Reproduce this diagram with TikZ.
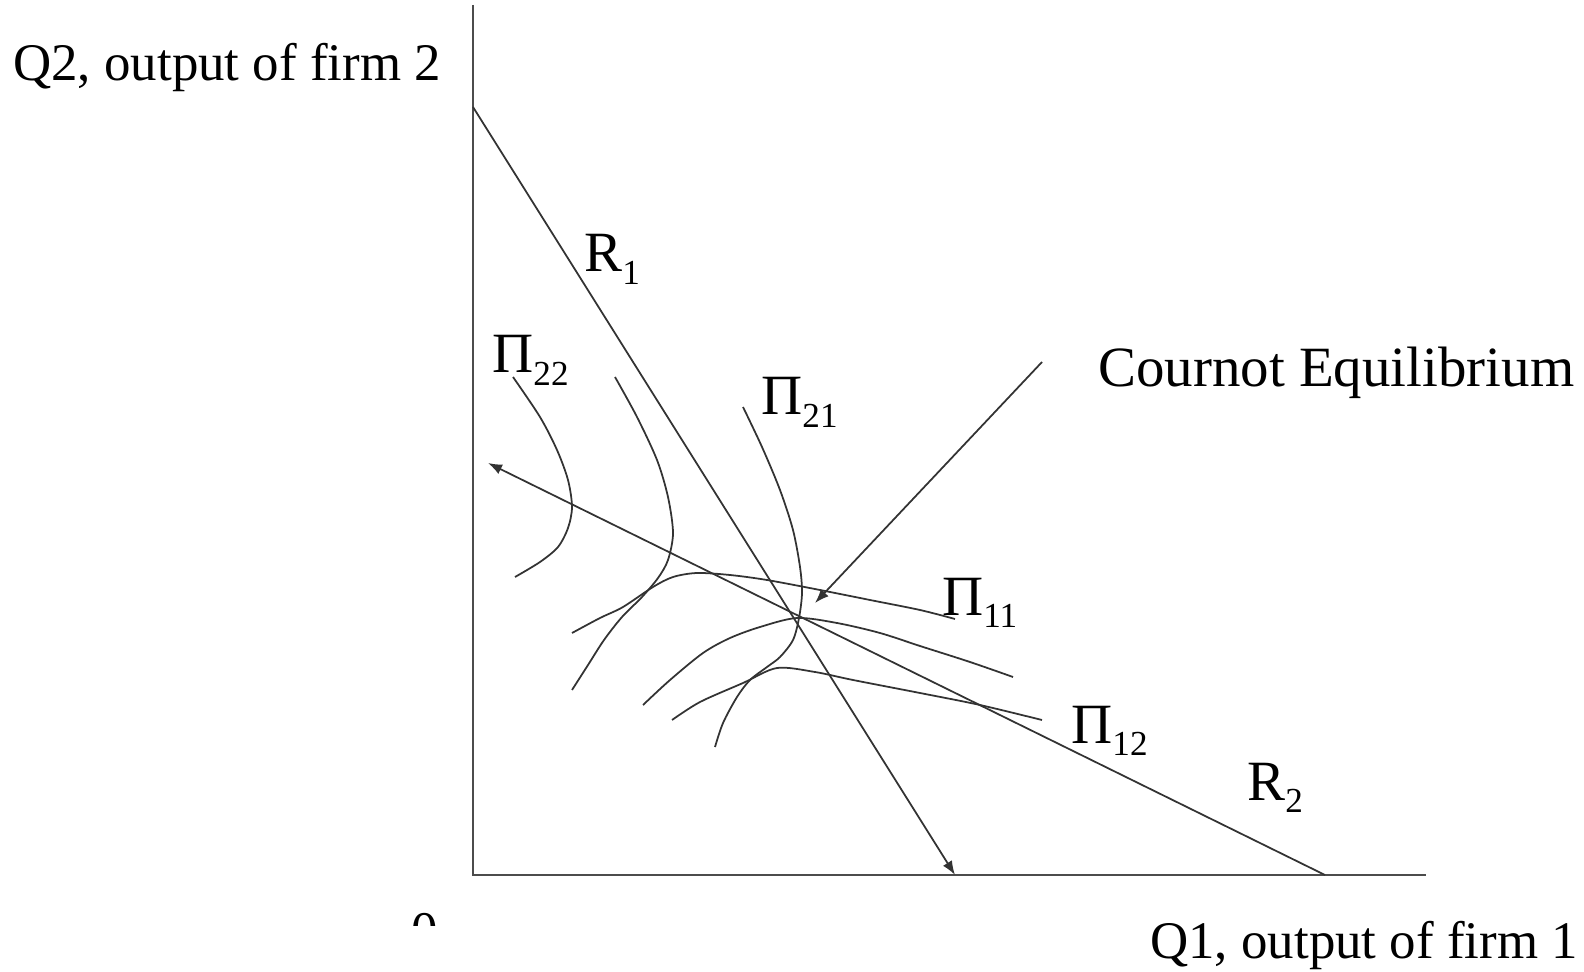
\documentclass[tikz,border=0pt]{standalone}
\usepackage{fontspec}
\setmainfont{Liberation Serif}
\usetikzlibrary{arrows.meta}
\newcommand{\withsub}[2]{#1\raisebox{-7pt}{\fontsize{20}{22}\selectfont #2}}

\begin{document}
\begin{tikzpicture}[
		x=0.02cm, y=-0.02cm,
		axis/.style={draw, line width=1.3pt, black!70},
		line/.style={draw, line width=1pt, black!80},
		tip/.style={-{Latex[length=8pt,width=6pt]}},
		axislabel/.style={anchor=base west, inner sep=0pt, font=\fontsize{30.1}{34}\selectfont},
		curvelabel/.style={anchor=base west, inner sep=0pt, font=\fontsize{32.4}{36}\selectfont}
		]
		\useasboundingbox (0,0) rectangle (1584,972);
		
		% Axes
		\coordinate (origin) at (473,875);
		\coordinate (ytop) at (473,5);
		\coordinate (xend) at (1426,875);
		\draw[axis] (ytop) -- (origin) -- (xend);
		
		% Axis labels
		\node[axislabel] (q2) at (13,81) {Q2, output of firm 2};
		\node[axislabel] (q1) at (1150,958) {Q1, output of firm 1};
		\begin{scope}
			\clip (400,905) rectangle (450,925);
			\node[axislabel, anchor=base] (zero) at (425,948) {0};
		\end{scope}
		
		% Reaction functions
		\coordinate (r1top) at (473,107);
		\coordinate (r1end) at (955,875);
		\coordinate (r2end) at (1325,875);
		\coordinate (r2tip) at (488,463);
		\draw[line, tip] (r1top) -- (r1end);
		\draw[line, tip] (r2end) -- (r2tip);
		
		% Iso-profit curves of firm 2
		\draw[line] plot[smooth] coordinates {(513,377) (540,417) (557,450) (568,480) (572,507) (568,528) (558,547) (540,562) (515,577)};
		\draw[line] plot[smooth] coordinates {(615,377) (637,417) (657,460) (668,497) (673,533) (668,560) (658,578) (642,597) (622,617) (604,640) (588,665) (572,690)};
		\draw[line] plot[smooth] coordinates {(743,407) (762,447) (780,490) (793,530) (800,567) (802,593) (799,618) (793,640) (780,657) (767,667) (750,680) (737,697) (723,723) (715,747)};
		
		% Iso-profit curves of firm 1
		\draw[line] plot[smooth] coordinates {(572,633) (600,618) (623,607) (653,587) (673,577) (697,573) (730,575) (767,580) (820,590) (870,600) (920,610) (955,619)};
		\draw[line] plot[smooth] coordinates {(643,705) (670,680) (703,653) (730,638) (760,627) (797,618) (837,623) (880,633) (920,646) (970,662) (1013,677)};
		\draw[line] plot[smooth] coordinates {(672,720) (700,702) (743,683) (777,668) (815,672) (853,680) (920,693) (980,705) (1042,720)};
		
		% Curve labels
		\node[curvelabel] (lr1) at (584,272) {\withsub{R}{1}};
		\node[curvelabel] (lr2) at (1247,800) {\withsub{R}{2}};
		\node[curvelabel] (lp22) at (492,373) {\withsub{Π}{22}};
		\node[curvelabel] (lp21) at (761,415) {\withsub{Π}{21}};
		\node[curvelabel] (lp11) at (942,615) {\withsub{Π}{11}};
		\node[curvelabel] (lp12) at (1071,743) {\withsub{Π}{12}};
		
		% Cournot equilibrium
		\coordinate (ce) at (815,603);
		\coordinate (cestart) at (1042,362);
		\node[curvelabel] (cournot) at (1098,387) {Cournot Equilibrium};
		\draw[line, tip] (cestart) -- (ce);
		
	\end{tikzpicture}
\end{document}
